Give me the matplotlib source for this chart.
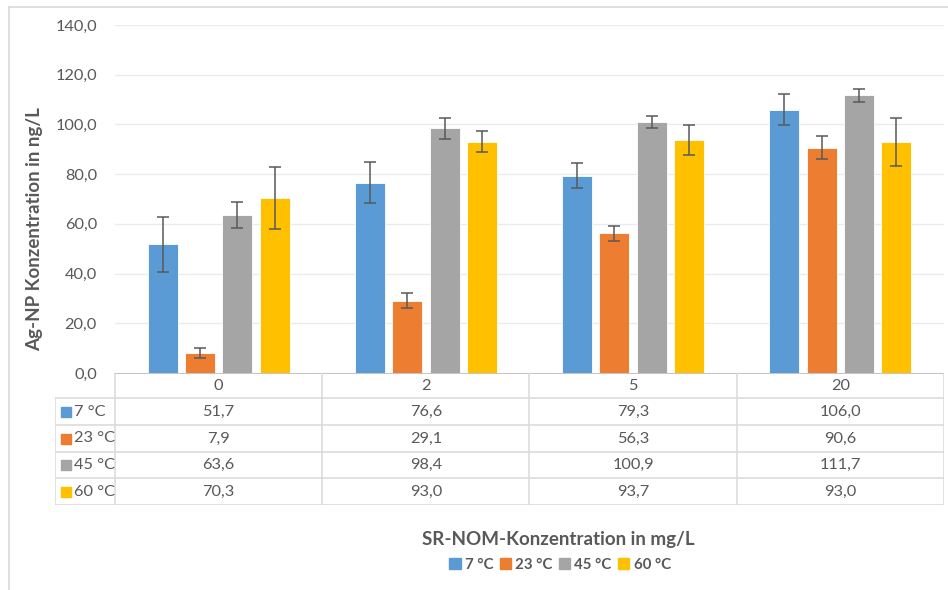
import matplotlib
matplotlib.use("Agg")
import matplotlib.pyplot as plt
from matplotlib.patches import Rectangle
from matplotlib.lines import Line2D

plt.rcParams['font.family'] = ['Lato', 'DejaVu Sans']

categories = ["0", "2", "5", "20"]
series_names = ["7 °C", "23 °C", "45 °C", "60 °C"]
v7 = [51.7, 76.6, 79.3, 106.0]
v23 = [7.9, 29.1, 56.3, 90.6]
v45 = [63.6, 98.4, 100.9, 111.7]
v60 = [70.3, 93.0, 93.7, 93.0]
e7 = [11.2, 8.4, 5.0, 6.2]
e23 = [2.0, 3.0, 3.0, 4.6]
e45 = [5.2, 4.1, 2.3, 2.7]
e60 = [12.5, 4.2, 5.9, 9.6]
colors = ["#5B9BD5", "#ED7D31", "#A5A5A5", "#FFC000"]
yticks = [0, 20, 40, 60, 80, 100, 120, 140]

values = [v7, v23, v45, v60]
errors = [e7, e23, e45, e60]

W, H = 948, 590
fig = plt.figure(figsize=(W / 100, H / 100), dpi=100)
txt = "#595959"
grid = "#EBEBEB"
tline = "#D9D9D9"
fs = 11.8

def fx(px):
    return px / W

def fy(py):
    return 1 - py / H

# outer frame (top and left edges visible)
fig.add_artist(Line2D([fx(9), fx(9)], [fy(7), 0], transform=fig.transFigure, color="#D9D9D9", lw=1.2))
fig.add_artist(Line2D([fx(9), 1], [fy(7), fy(7)], transform=fig.transFigure, color="#D9D9D9", lw=1.2))

# main axes
x0, x1, ytop, ybot = 115, 944, 25, 373
ax = fig.add_axes([fx(x0), fy(ybot), fx(x1) - fx(x0), fy(ytop) - fy(ybot)])
ax.set_xlim(-0.5, 3.5)
ax.set_ylim(0, 140)
for s in ax.spines.values():
    s.set_visible(False)
ax.set_yticks(yticks)
ax.set_yticklabels([f"{t:.1f}".replace(".", ",") for t in yticks], color=txt, fontsize=fs)
ax.tick_params(axis="y", length=0, pad=13)
ax.set_xticks([])
ax.yaxis.grid(True, color=grid, lw=1)
ax.set_axisbelow(True)

bw = 0.145
step = 0.18
for i, (vals, errs, c) in enumerate(zip(values, errors, colors)):
    xs = [k + (i - 1.5) * step for k in range(len(categories))]
    ax.bar(xs, vals, width=bw, color=c, edgecolor="white", lw=0.6, zorder=2)
    ax.errorbar(xs, vals, yerr=errs, fmt="none", ecolor="#595959", elinewidth=1.1,
                capsize=4, capthick=1.1, zorder=3)

fig.text(fx(34.5), fy(229), "Ag-NP Konzentration in ng/L", rotation=90, ha="center",
         va="center", fontsize=13.5, fontweight="bold", color=txt)

# table axes
ppu = (x1 - x0) / 4.0
tl = 55
tb = 505
tax = fig.add_axes([fx(tl), fy(tb), fx(x1) - fx(tl), fy(ybot) - fy(tb)])
tax.set_xlim(-0.5 - (x0 - tl) / ppu, 3.5)
rows = [373, 398, 425, 452, 478, 505]
tax.set_ylim(rows[-1], rows[0])
tax.axis("off")
left = -0.5 - (x0 - tl) / ppu
tax.add_line(Line2D([-0.5, 3.5], [rows[0], rows[0]], color="#BFBFBF", lw=1.3))
for r in rows[1:]:
    tax.add_line(Line2D([left, 3.5], [r, r], color=tline, lw=1.1))
for k in range(len(categories) + 1):
    tax.add_line(Line2D([k - 0.5, k - 0.5], [rows[0], rows[-1]], color=tline, lw=1.1))
tax.add_line(Line2D([left, left], [rows[1], rows[-1]], color=tline, lw=1.1))

for k, cat in enumerate(categories):
    tax.text(k, (rows[0] + rows[1]) / 2, cat, ha="center", va="center", color=txt, fontsize=fs)
for i, (name, vals, c) in enumerate(zip(series_names, values, colors)):
    yc = (rows[i + 1] + rows[i + 2]) / 2
    for k, v in enumerate(vals):
        tax.text(k, yc, f"{v:.1f}".replace(".", ","), ha="center", va="center",
                 color=txt, fontsize=fs)
    fig.add_artist(Rectangle((fx(61), fy(yc + 5)), fx(10), fy(0) - fy(10),
                             transform=fig.transFigure, color=c))
    fig.text(fx(73.5), fy(yc), name, ha="left", va="center", color=txt, fontsize=fs)

# x label
fig.text(fx(558), fy(540), "SR-NOM-Konzentration in mg/L", ha="center", va="center",
         fontsize=13.5, fontweight="bold", color=txt)

# legend
handles = [Rectangle((0, 0), 1, 1, color=c) for c in colors]
fig.legend(handles, series_names, loc="center", bbox_to_anchor=(fx(560), fy(565)),
           ncol=4, frameon=False, prop={"weight": "bold", "size": 10.8},
           handlelength=0.75, handleheight=0.75, handletextpad=0.3, columnspacing=0.4,
           labelcolor=txt)

fig.savefig("out.png", dpi=100)
